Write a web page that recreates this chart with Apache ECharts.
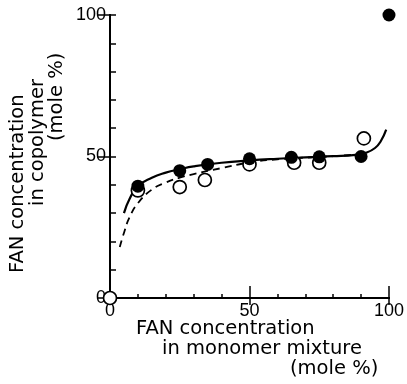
<!DOCTYPE html>
<html>
<head>
<meta charset="utf-8">
<script src="https://cdn.jsdelivr.net/npm/echarts@6/dist/echarts.min.js"></script>
<style>
  html, body { margin: 0; padding: 0; background: #fff; }
  #chart { width: 407px; height: 384px; }
</style>
</head>
<body>
<div id="chart"></div>
<script>
// monomer FAN (mole %) vs copolymer FAN (mole %)
const filledPoints = [[10, 39.5], [25, 45], [35, 47.2], [50, 49.2], [65, 49.7], [75, 49.9], [90, 50], [100, 100]]
const openPoints = [[0, 0], [10, 38], [25, 39.2], [34, 41.7], [50, 47.2], [66, 47.8], [75, 47.8], [91, 56.4]]
const solidCurve = [[5, 30], [7, 35], [10, 39.5], [15, 42.5], [20, 44.3], [25, 45.5], [30, 46.5], [40, 47.8],
  [50, 48.6], [60, 49.2], [70, 49.7], [80, 50.1], [88, 50.6], [92, 51.4], [95, 53], [97, 55.3], [99, 59.5]]
const dashedCurve = [[3.5, 18], [5, 23], [7, 28.5], [10, 33.5], [15, 38.3], [20, 40.8], [25, 42.5], [30, 43.8],
  [40, 45.9], [50, 47.9], [60, 49], [70, 49.6], [80, 50.1], [90, 50.8]]
const majorTicks = ['0', '50', '100']

const chart = echarts.init(document.getElementById('chart'))
const font = 'DejaVu Sans'
const tickFont = 'Liberation Sans'
const black = '#000'

const baseAxis = {
  type: 'value',
  min: 0,
  max: 100,
  splitLine: { show: false },
  axisLine: { show: true, lineStyle: { color: black, width: 1.8 } },
}

const titleFont = `19.5px "${font}"`

const option = {
  animation: false,
  grid: { left: 110, right: 14, top: 15, bottom: 86 },
  xAxis: [
    {
      ...baseAxis, position: 'bottom', interval: 10,
      axisTick: { inside: true, length: 4, lineStyle: { color: black, width: 1.5 } },
      axisLabel: {
        margin: 4, color: black, fontFamily: tickFont, fontSize: 18,
        formatter: (v) => (majorTicks.includes(String(v)) ? String(v) : ''),
      },
    },
    {
      ...baseAxis, position: 'bottom', interval: 50,
      axisTick: { inside: true, length: 12, lineStyle: { color: black, width: 1.5 } },
      axisLabel: { show: false },
    },
    {
      ...baseAxis, position: 'top', interval: 50,
      axisTick: { inside: true, length: 7, lineStyle: { color: black, width: 1.5 } },
      axisLabel: { show: false },
    },
  ],
  yAxis: [
    {
      ...baseAxis, position: 'left', interval: 10,
      axisTick: { inside: true, length: 6, lineStyle: { color: black, width: 1.5 } },
      axisLabel: {
        margin: 4, color: black, fontFamily: tickFont, fontSize: 18,
        formatter: (v) => (majorTicks.includes(String(v)) ? String(v) : ''),
      },
    },
    {
      ...baseAxis, position: 'left', interval: 50,
      axisTick: { inside: false, length: 5, lineStyle: { color: black, width: 1.5 } },
      axisLabel: { show: false },
    },
    {
      ...baseAxis, position: 'right', interval: 50,
      axisTick: { inside: true, length: 13, lineStyle: { color: black, width: 1.5 } },
      axisLabel: { show: false },
    },
  ],
  series: [
    {
      type: 'line', data: dashedCurve, smooth: true, showSymbol: false, z: 2,
      lineStyle: { color: black, width: 1.8, type: [7, 5] },
    },
    {
      type: 'line', data: solidCurve, smooth: true, showSymbol: false, z: 3,
      lineStyle: { color: black, width: 2.2 },
    },
    {
      type: 'scatter', data: openPoints, symbol: 'circle', symbolSize: 13, clip: false, z: 4,
      itemStyle: { color: '#fff', borderColor: black, borderWidth: 1.7, opacity: 1 },
    },
    {
      type: 'scatter', data: filledPoints, symbol: 'circle', symbolSize: 13, clip: false, z: 5,
      itemStyle: { color: black, opacity: 1 },
    },
  ],
  graphic: [
    { type: 'text', left: 136, top: 319, style: { text: 'FAN concentration', font: titleFont, fill: black } },
    { type: 'text', left: 162, top: 339, style: { text: 'in monomer mixture', font: titleFont, fill: black } },
    { type: 'text', left: 290, top: 359, style: { text: '(mole %)', font: titleFont, fill: black } },
    {
      type: 'text', x: 18, y: 273, rotation: Math.PI / 2,
      style: { text: 'FAN concentration', font: titleFont, fill: black, align: 'left', verticalAlign: 'middle' },
    },
    {
      type: 'text', x: 38, y: 206, rotation: Math.PI / 2,
      style: { text: 'in copolymer', font: titleFont, fill: black, align: 'left', verticalAlign: 'middle' },
    },
    {
      type: 'text', x: 57, y: 141, rotation: Math.PI / 2,
      style: { text: '(mole %)', font: titleFont, fill: black, align: 'left', verticalAlign: 'middle' },
    },
  ],
}

chart.setOption(option)
</script>
</body>
</html>
